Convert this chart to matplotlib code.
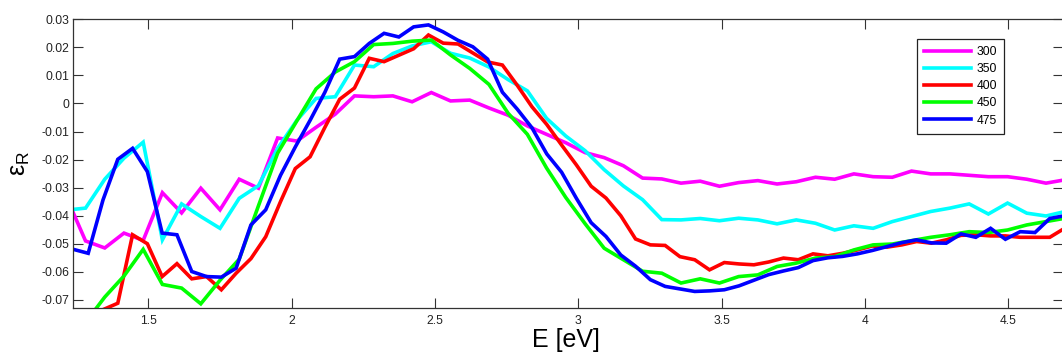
import matplotlib
matplotlib.use("Agg")
import matplotlib.pyplot as plt

plt.rcParams['font.family'] = ['Liberation Sans', 'DejaVu Sans']
plt.rcParams['axes.unicode_minus'] = False
plt.rcParams['mathtext.default'] = 'regular'

# Photon energy grids (eV): two sampling grids
E_a = [1.214, 1.281, 1.348, 1.415, 1.482, 1.549, 1.616, 1.683, 1.750, 1.817,
       1.884, 1.951, 2.018, 2.085, 2.152, 2.219, 2.286, 2.353, 2.420, 2.487,
       2.554, 2.621, 2.688, 2.755, 2.822, 2.889, 2.956, 3.023, 3.090, 3.157,
       3.224, 3.291, 3.358, 3.425, 3.492, 3.559, 3.626, 3.693, 3.760, 3.827,
       3.894, 3.961, 4.028, 4.095, 4.162, 4.229, 4.296, 4.363, 4.430, 4.497,
       4.564, 4.631, 4.698, 4.765]

E_b = [1.2386, 1.2902, 1.3418, 1.3934, 1.4450, 1.4966, 1.5482, 1.5998, 1.6514, 1.7030,
       1.7546, 1.8062, 1.8578, 1.9094, 1.9610, 2.0126, 2.0642, 2.1158, 2.1674, 2.2190,
       2.2706, 2.3222, 2.3738, 2.4254, 2.4770, 2.5286, 2.5802, 2.6318, 2.6834, 2.7350,
       2.7866, 2.8382, 2.8898, 2.9414, 2.9930, 3.0446, 3.0962, 3.1478, 3.1994, 3.2510,
       3.3026, 3.3542, 3.4058, 3.4574, 3.5090, 3.5606, 3.6122, 3.6638, 3.7154, 3.7670,
       3.8186, 3.8702, 3.9218, 3.9734, 4.0250, 4.0766, 4.1282, 4.1798, 4.2314, 4.2830,
       4.3346, 4.3862, 4.4378, 4.4894, 4.5410, 4.5926, 4.6442, 4.6958]

eps_300 = [-0.0333, -0.0490, -0.0515, -0.0462, -0.0488, -0.0318, -0.0390, -0.0302, -0.0379, -0.0270,
           -0.0302, -0.0123, -0.0134, -0.0085, -0.0038, 0.0027, 0.0024, 0.0027, 0.0006, 0.0039,
           0.0009, 0.0012, -0.0016, -0.0042, -0.0080, -0.0110, -0.0140, -0.0175, -0.0193, -0.0222,
           -0.0266, -0.0269, -0.0284, -0.0277, -0.0295, -0.0282, -0.0275, -0.0287, -0.0279, -0.0263,
           -0.0270, -0.0251, -0.0261, -0.0263, -0.0241, -0.0251, -0.0251, -0.0256, -0.0261, -0.0261,
           -0.0270, -0.0284, -0.0272, -0.0270]

eps_350 = [-0.0380, -0.0373, -0.0270, -0.0195, -0.0138, -0.0486, -0.0358, -0.0403, -0.0445, -0.0338,
           -0.0293, -0.0160, -0.0060, 0.0018, 0.0024, 0.0137, 0.0131, 0.0178, 0.0205, 0.0220,
           0.0179, 0.0162, 0.0130, 0.0085, 0.0045, -0.0053, -0.0116, -0.0168, -0.0236, -0.0294,
           -0.0343, -0.0414, -0.0415, -0.0410, -0.0418, -0.0409, -0.0415, -0.0429, -0.0415, -0.0427,
           -0.0451, -0.0436, -0.0445, -0.0421, -0.0403, -0.0385, -0.0373, -0.0358, -0.0394, -0.0355,
           -0.0391, -0.0401, -0.0385, -0.0380]

eps_450 = [-0.0850, -0.0780, -0.0690, -0.0615, -0.0520, -0.0645, -0.0658, -0.0714, -0.0630, -0.0555,
           -0.0365, -0.0177, -0.0062, 0.0052, 0.0112, 0.0149, 0.0210, 0.0214, 0.0222, 0.0226,
           0.0173, 0.0125, 0.0068, -0.0035, -0.0110, -0.0230, -0.0335, -0.0428, -0.0516, -0.0557,
           -0.0598, -0.0605, -0.0640, -0.0625, -0.0640, -0.0617, -0.0611, -0.0581, -0.0569, -0.0551,
           -0.0546, -0.0522, -0.0504, -0.0501, -0.0489, -0.0477, -0.0468, -0.0457, -0.0460, -0.0451,
           -0.0433, -0.0421, -0.0409, -0.0400]

eps_400 = [-0.0790, -0.0760, -0.0735, -0.0712, -0.0468, -0.0500, -0.0617, -0.0571, -0.0625, -0.0617,
           -0.0664, -0.0605, -0.0553, -0.0475, -0.0350, -0.0232, -0.0190, -0.0085, 0.0015, 0.0055,
           0.0161, 0.0149, 0.0172, 0.0195, 0.0244, 0.0215, 0.0212, 0.0180, 0.0148, 0.0137,
           0.0065, -0.0012, -0.0075, -0.0148, -0.0219, -0.0295, -0.0337, -0.0400, -0.0483, -0.0504,
           -0.0506, -0.0546, -0.0557, -0.0593, -0.0567, -0.0572, -0.0575, -0.0565, -0.0551, -0.0557,
           -0.0536, -0.0543, -0.0534, -0.0522, -0.0508, -0.0512, -0.0504, -0.0492, -0.0498, -0.0486,
           -0.0470, -0.0468, -0.0472, -0.0472, -0.0477, -0.0477, -0.0477, -0.0445]

eps_475 = [-0.0520, -0.0534, -0.0344, -0.0199, -0.0160, -0.0243, -0.0462, -0.0468, -0.0599, -0.0617,
           -0.0619, -0.0587, -0.0433, -0.0379, -0.0256, -0.0155, -0.0060, 0.0040, 0.0158, 0.0167,
           0.0214, 0.0250, 0.0237, 0.0273, 0.0280, 0.0255, 0.0225, 0.0202, 0.0158, 0.0040,
           -0.0020, -0.0087, -0.0180, -0.0245, -0.0338, -0.0425, -0.0474, -0.0540, -0.0580, -0.0628,
           -0.0652, -0.0661, -0.0670, -0.0668, -0.0664, -0.0650, -0.0630, -0.0610, -0.0597, -0.0585,
           -0.0560, -0.0550, -0.0545, -0.0536, -0.0524, -0.0510, -0.0496, -0.0486, -0.0497, -0.0498,
           -0.0465, -0.0477, -0.0445, -0.0484, -0.0457, -0.0460, -0.0410, -0.0400]

series_labels = ['300', '350', '400', '450', '475']
series_colors = ['#ff00ff', '#00ffff', '#ff0000', '#00ff00', '#0000ff']

x_ticks = [1.5, 2.0, 2.5, 3.0, 3.5, 4.0, 4.5]
x_tick_labels = ['1.5', '2', '2.5', '3', '3.5', '4', '4.5']
y_ticks = [-0.07, -0.06, -0.05, -0.04, -0.03, -0.02, -0.01, 0.0, 0.01, 0.02, 0.03]
y_tick_labels = ['-0.07', '-0.06', '-0.05', '-0.04', '-0.03', '-0.02', '-0.01', '0',
                 '0.01', '0.02', '0.03']

W, H = 1062, 356
fig = plt.figure(figsize=(W / 100, H / 100), dpi=100)
left_px, right_px, top_px, bottom_px = 73.4, 1062.9, 19.3, 308.0
ax = fig.add_axes([left_px / W, 1 - bottom_px / H,
                   (right_px - left_px) / W, (bottom_px - top_px) / H])

curves = [(E_a, eps_300), (E_a, eps_350), (E_b, eps_400), (E_a, eps_450), (E_b, eps_475)]
for (x, y), lab, col in zip(curves, series_labels, series_colors):
    ax.plot(x, y, color=col, lw=2.6, label=lab, solid_joinstyle='miter')

ax.set_xlim(1.2386, 4.69)
ax.set_ylim(-0.0729, 0.03)
ax.set_xticks(x_ticks)
ax.set_xticklabels(x_tick_labels)
ax.set_yticks(y_ticks)
ax.set_yticklabels(y_tick_labels)
ax.tick_params(direction='in', length=7, width=0.8, color='#333333',
               top=True, right=True, labelsize=8.7, labelcolor='#222222')
ax.tick_params(axis='x', pad=5)
ax.tick_params(axis='y', pad=3)
for s in ax.spines.values():
    s.set_color('#333333')
    s.set_linewidth(0.9)

ax.set_xlabel('E [eV]', fontsize=18)
ax.xaxis.set_label_coords(0.498, -0.07)
fig.text(20 / W, 1 - 163 / H, 'ε$_{R}$', rotation=90, ha='center', va='center', fontsize=18)

leg = ax.legend(loc='upper left', bbox_to_anchor=((917 - left_px) / (right_px - left_px),
                                                   (bottom_px - 39) / (bottom_px - top_px)),
                borderaxespad=0, fontsize=8.7, handlelength=3.9, handletextpad=0.4,
                labelspacing=0.42, borderpad=0.6, fancybox=False, framealpha=1,
                edgecolor='#222222')
leg.get_frame().set_linewidth(0.9)

fig.savefig('out.png', dpi=100)
